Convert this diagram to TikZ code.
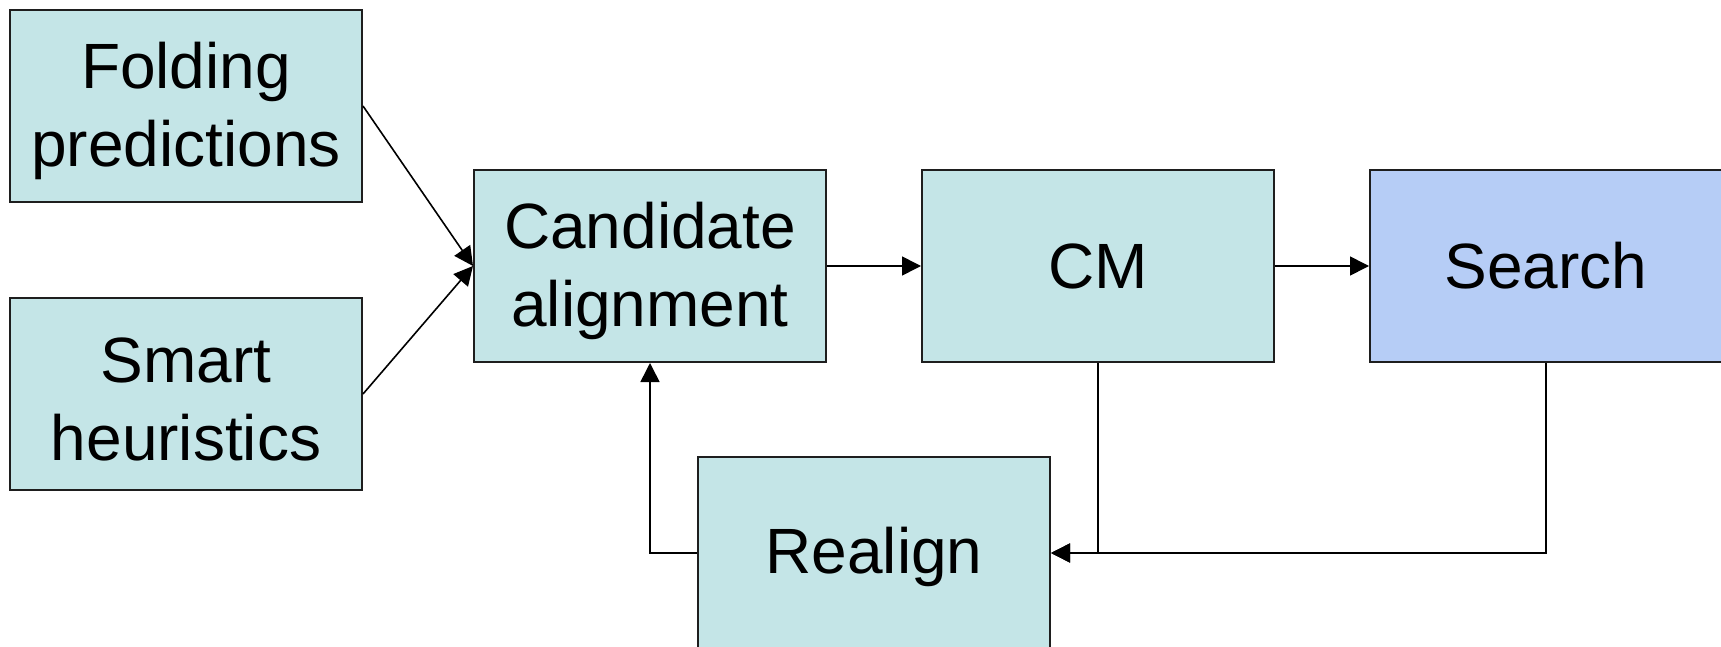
\documentclass[tikz,border=0pt]{standalone}
\usepackage{fontspec}
\setmainfont{Liberation Sans}
\usetikzlibrary{arrows.meta}
\definecolor{boxcyan}{HTML}{C4E5E7}
\definecolor{boxblue}{HTML}{B6CDF6}
\definecolor{edge}{HTML}{1E1E1E}
\tikzset{
  blk/.style={draw=edge, line width=2pt, fill=boxcyan, minimum width=352pt, minimum height=192pt,
    inner sep=0pt},
  txt/.style={inner sep=0pt, align=center, font=\fontsize{64}{78}\selectfont, text=black},
  conn/.style={draw=black, line width=1.6pt},
  arr/.style={conn, -{Triangle[length=19pt,width=19pt]}}
}
\begin{document}
\begin{tikzpicture}[x=1pt,y=-1pt]
\useasboundingbox (0,0) rectangle (1721,647);
\node[blk] (fold) at (186,106) {};
\node[blk] (smart) at (186,394) {};
\node[blk] (cand) at (650,266) {};
\node[blk] (cm) at (1098,266) {};
\node[blk, fill=boxblue] (search) at (1546,266) {};
\node[blk] (realign) at (874,553) {};
\node[txt] (foldt) at ([yshift=-5pt]fold.center) {Folding\\predictions};
\node[txt] (smartt) at ([yshift=-5pt]smart.center) {Smart\\heuristics};
\node[txt] (candt) at ([yshift=-5pt]cand.center) {Candidate\\alignment};
\node[txt] (cmt) at (cm.center) {CM};
\node[txt] (searcht) at (search.center) {Search};
\node[txt] (realignt) at ([yshift=-4pt]realign.center) {Realign};
\draw[arr] (fold.east) -- (cand.west);
\draw[arr] (smart.east) -- (cand.west);
\draw[arr] (cand.east) -- (cm.west);
\draw[arr] (cm.east) -- (search.west);
\draw[arr] (realign.west) -| (cand.south);
\draw[arr] (cm.south) |- (realign.east);
\draw[arr] (search.south) |- (realign.east);
\end{tikzpicture}
\end{document}
